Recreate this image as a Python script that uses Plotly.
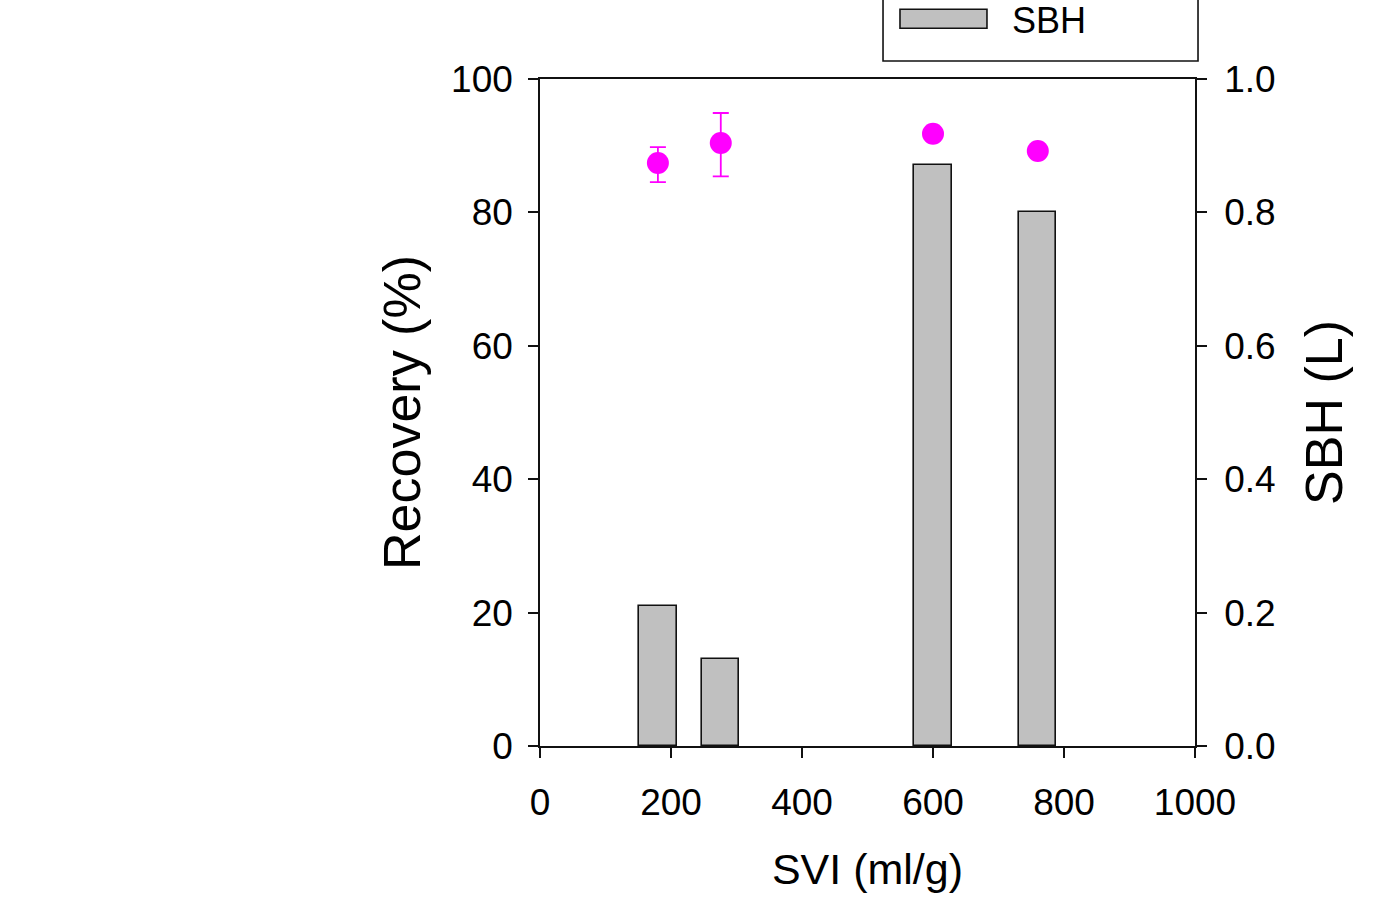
import plotly.graph_objects as go

# SVI (ml/g) of each sludge sample
svi = [180, 276, 600, 760]

# Recovery (%) with asymmetric error bars
recovery = [87.4, 90.4, 91.8, 89.2]
recovery_err_plus = [2.4, 4.5, 0.4, 0.4]
recovery_err_minus = [2.85, 5.0, 0.4, 0.4]

# SBH (L) bars
sbh = [0.21, 0.13, 0.871, 0.80]
bar_width = [57, 57, 57, 57]

x_ticks = [0, 200, 400, 600, 800, 1000]
y_ticks = [0, 20, 40, 60, 80, 100]
y2_ticks = [0.0, 0.2, 0.4, 0.6, 0.8, 1.0]
y2_ticktext = [f"{v:.1f}" for v in y2_ticks]

FONT = "Liberation Sans, Arial, Helvetica, sans-serif"
TICK_SIZE = 37
X_TITLE_SIZE = 43
Y_TITLE_SIZE = 52

fig = go.Figure()

fig.add_trace(go.Bar(
    x=svi, y=sbh, width=bar_width, yaxis="y2",
    marker=dict(color="#c0c0c0", line=dict(color="#111111", width=1.6)),
    name="SBH", showlegend=False,
))

fig.add_trace(go.Scatter(
    x=svi, y=recovery, mode="markers",
    marker=dict(color="#ff00ff", size=22, line=dict(width=0)),
    error_y=dict(type="data", symmetric=False, array=recovery_err_plus,
                 arrayminus=recovery_err_minus, color="#ff00ff",
                 thickness=1.8, width=8),
    name="Recovery", showlegend=False,
))

axis_common = dict(
    showline=True, linecolor="#111111", linewidth=1.6,
    ticks="outside", ticklen=10, tickwidth=1.6, tickcolor="#111111",
    showgrid=False, zeroline=False,
    tickfont=dict(family=FONT, size=TICK_SIZE, color="#000000"),
)

fig.update_layout(
    width=1400, height=900,
    margin=dict(l=540, r=205, t=79, b=154, pad=0),
    paper_bgcolor="white", plot_bgcolor="white",
    font=dict(family=FONT, color="#000000"),
    bargap=0,
    xaxis=dict(
        range=[0, 1000], tickvals=x_ticks, mirror=True,
        title=dict(text="SVI (ml/g)", font=dict(family=FONT, size=X_TITLE_SIZE), standoff=32),
        ticklabelstandoff=13,
        **axis_common,
    ),
    yaxis=dict(
        range=[0, 100], tickvals=y_ticks,
        title=dict(text="Recovery (%)", font=dict(family=FONT, size=Y_TITLE_SIZE), standoff=14),
        ticklabelstandoff=8,
        **axis_common,
    ),
    yaxis2=dict(
        range=[0, 1], tickvals=y2_ticks, ticktext=y2_ticktext,
        overlaying="y", side="right",
        title=dict(text="SBH (L)", font=dict(family=FONT, size=Y_TITLE_SIZE), standoff=31),
        ticklabelstandoff=10,
        **axis_common,
    ),
)

# Legend box (upper part runs off the top edge of the page)
fig.add_shape(type="rect", xref="paper", yref="paper",
              x0=0.5237, x1=1.0046, y0=1.027, y1=1.3,
              line=dict(color="#111111", width=1.6), fillcolor="white")
fig.add_shape(type="rect", xref="paper", yref="paper",
              x0=0.5496, x1=0.6824, y0=1.076, y1=1.1045,
              line=dict(color="#111111", width=1.6), fillcolor="#c0c0c0")
fig.add_annotation(text="SBH", xref="paper", yref="paper",
                   x=0.7176, y=1.088, xanchor="left", yanchor="middle",
                   showarrow=False, font=dict(family=FONT, size=36, color="#000000"))

fig.write_html("out.html")
